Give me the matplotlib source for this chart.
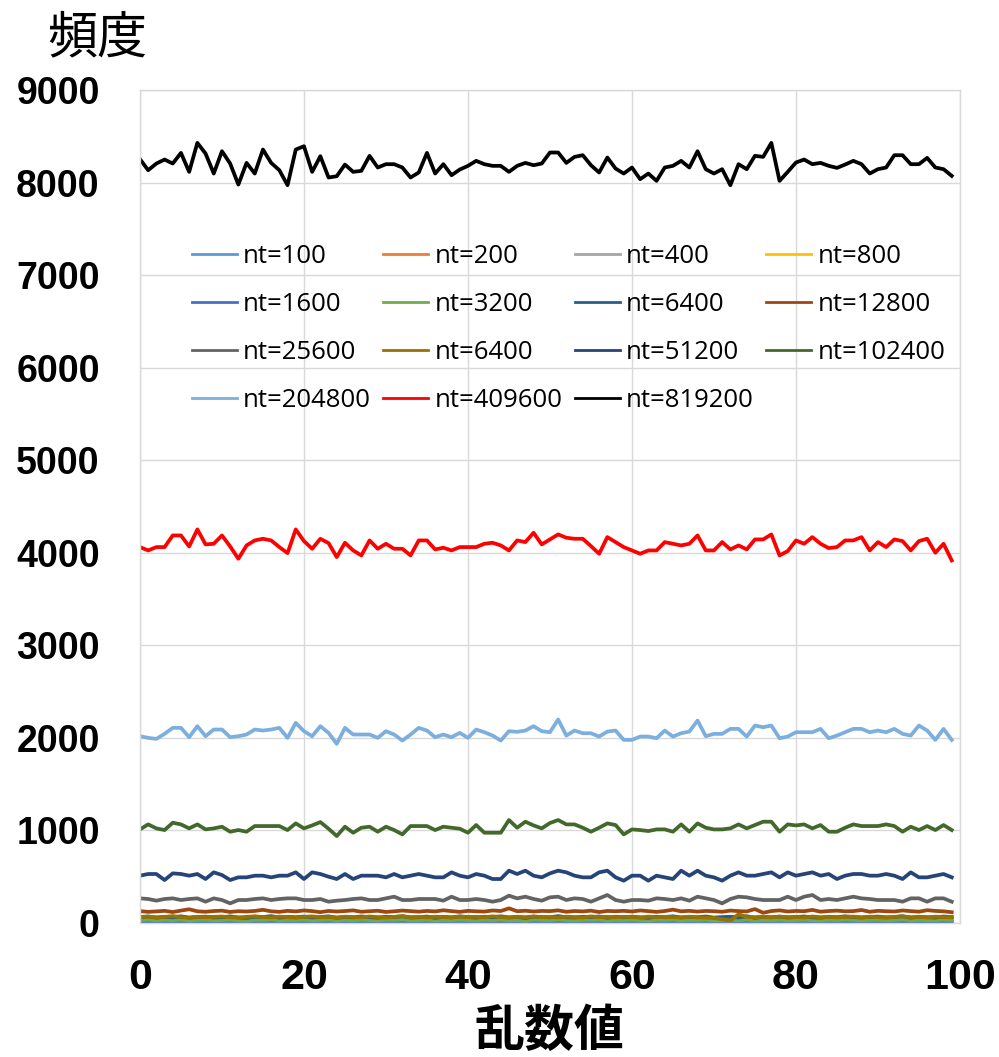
import matplotlib
matplotlib.use('Agg')
import matplotlib.pyplot as plt

# 乱数値 0..99 の出現頻度
x = list(range(100))

labels = ['nt=100', 'nt=200', 'nt=400', 'nt=800', 'nt=1600', 'nt=3200', 'nt=6400',
          'nt=12800', 'nt=25600', 'nt=6400', 'nt=51200', 'nt=102400', 'nt=204800',
          'nt=409600', 'nt=819200']
colors = ['#5B9BD5', '#ED7D31', '#A5A5A5', '#FFC000', '#4472C4', '#70AD47', '#255E91',
          '#9E480E', '#636363', '#997300', '#264478', '#43682B', '#7CAFDD',
          '#FF0000', '#000000']

nt100 = [1, 0, 2, 1, 1, 0, 3, 1, 0, 1, 2, 1, 0, 1, 1, 2, 0, 1, 1, 0,
         2, 1, 1, 0, 1, 3, 0, 1, 2, 1, 0, 1, 1, 2, 0, 1, 0, 2, 1, 1,
         1, 0, 1, 2, 1, 0, 1, 1, 3, 0, 1, 2, 0, 1, 1, 0, 2, 1, 0, 1,
         1, 1, 0, 2, 1, 1, 0, 1, 2, 0, 1, 0, 1, 1, 2, 0, 1, 3, 1, 0,
         1, 2, 1, 0, 1, 1, 0, 2, 1, 1, 0, 1, 2, 1, 0, 1, 1, 0, 2, 1]
nt200 = [2, 3, 1, 2, 0, 2, 4, 1, 2, 3, 1, 2, 2, 3, 1, 0, 2, 3, 2, 1,
         3, 2, 1, 2, 4, 2, 1, 3, 2, 2, 1, 3, 2, 0, 2, 3, 1, 2, 2, 4,
         2, 1, 3, 2, 2, 1, 2, 3, 1, 2, 3, 2, 2, 1, 4, 2, 1, 2, 3, 2,
         1, 2, 3, 2, 0, 2, 3, 1, 2, 2, 4, 2, 1, 3, 2, 2, 1, 2, 3, 1,
         2, 3, 2, 1, 2, 2, 4, 1, 2, 3, 2, 1, 2, 3, 2, 1, 2, 2, 3, 2]
nt400 = [4, 5, 3, 4, 6, 2, 4, 5, 3, 4, 6, 4, 3, 5, 4, 2, 5, 4, 3, 6,
         4, 3, 5, 4, 4, 7, 3, 4, 5, 2, 4, 6, 3, 4, 5, 4, 3, 2, 5, 4,
         4, 5, 3, 6, 4, 3, 4, 5, 2, 4, 5, 4, 3, 4, 6, 4, 3, 5, 4, 2,
         4, 5, 4, 3, 6, 4, 2, 5, 4, 3, 4, 6, 3, 4, 5, 4, 3, 4, 6, 2,
         5, 4, 3, 4, 5, 3, 4, 6, 4, 3, 4, 5, 2, 4, 6, 4, 3, 5, 4, 4]
nt800 = [8, 10, 7, 6, 9, 8, 11, 7, 8, 6, 9, 8, 10, 5, 8, 9, 7, 8, 11, 6,
         8, 9, 7, 10, 8, 6, 9, 8, 7, 10, 8, 6, 9, 11, 7, 8, 8, 10, 6, 9,
         7, 8, 10, 8, 5, 9, 8, 7, 11, 8, 9, 6, 8, 10, 7, 8, 9, 6, 8, 10,
         7, 9, 8, 6, 11, 8, 7, 9, 8, 10, 6, 8, 9, 7, 8, 12, 7, 8, 9, 6,
         8, 10, 7, 8, 9, 6, 8, 11, 7, 8, 9, 7, 8, 10, 6, 8, 9, 7, 8, 10]
nt1600 = [16, 19, 14, 17, 13, 18, 15, 20, 16, 12, 17, 15, 19, 14, 16, 18, 13, 17, 20, 15,
          16, 14, 18, 12, 17, 19, 15, 16, 13, 18, 17, 15, 14, 19, 16, 12, 18, 16, 15, 20,
          14, 17, 16, 13, 19, 15, 18, 14, 16, 17, 13, 18, 16, 15, 20, 14, 17, 12, 16, 19,
          15, 17, 14, 18, 16, 13, 19, 15, 17, 16, 14, 18, 12, 16, 19, 15, 17, 14, 18, 16,
          15, 13, 17, 19, 16, 14, 18, 15, 12, 17, 16, 19, 14, 17, 15, 18, 13, 16, 20, 15]
nt3200 = [32, 36, 28, 34, 30, 38, 27, 33, 35, 29, 31, 37, 30, 26, 34, 32, 39, 28, 33, 31,
          35, 29, 32, 37, 27, 33, 30, 36, 31, 28, 34, 32, 38, 29, 31, 35, 27, 33, 30, 36,
          32, 28, 34, 31, 37, 29, 33, 26, 35, 32, 30, 38, 31, 29, 34, 32, 36, 28, 33, 31,
          35, 30, 27, 34, 32, 37, 29, 33, 31, 36, 28, 32, 34, 30, 38, 27, 33, 31, 35, 29,
          32, 36, 30, 28, 34, 31, 37, 32, 29, 33, 35, 30, 32, 38, 28, 34, 31, 29, 36, 32]
nt6400 = [64, 70, 58, 66, 61, 72, 57, 65, 68, 60, 63, 71, 59, 55, 67, 64, 74, 58, 66, 62,
          69, 60, 64, 72, 56, 65, 61, 70, 63, 57, 67, 64, 73, 59, 62, 69, 56, 66, 61, 71,
          64, 58, 67, 62, 72, 60, 66, 54, 69, 64, 61, 74, 62, 59, 67, 64, 70, 57, 66, 62,
          68, 61, 56, 67, 64, 72, 59, 66, 62, 70, 58, 64, 67, 60, 73, 56, 66, 62, 69, 59,
          64, 70, 61, 57, 67, 62, 72, 64, 59, 66, 69, 61, 64, 73, 57, 67, 62, 59, 70, 64]
nt12800 = [128, 120, 125, 131, 118, 134, 148, 126, 121, 129, 133, 119, 127, 124, 130, 142, 126, 120, 131, 125,
           135, 128, 117, 130, 124, 129, 136, 121, 127, 132, 119, 126, 134, 128, 122, 130, 125, 137, 128, 120,
           131, 126, 123, 135, 129, 158, 127, 132, 124, 130, 128, 136, 121, 129, 125, 133, 118, 130, 127, 131,
           124, 135, 128, 120, 129, 144, 126, 131, 123, 130, 127, 121, 134, 128, 125, 150, 110, 129, 136, 124,
           130, 127, 141, 122, 129, 133, 126, 128, 140, 121, 131, 127, 124, 135, 128, 122, 138, 130, 126, 116]
nt25600 = [266, 259, 241, 259, 266, 248, 259, 266, 230, 266, 248, 212, 248, 248, 259, 266, 248, 259, 266, 266,
           248, 248, 259, 230, 241, 248, 259, 266, 248, 248, 266, 284, 248, 248, 259, 259, 259, 241, 284, 248,
           248, 259, 248, 230, 248, 295, 266, 284, 259, 241, 277, 284, 248, 266, 259, 230, 266, 302, 248, 230,
           248, 248, 241, 266, 259, 248, 266, 241, 284, 266, 248, 212, 259, 284, 277, 259, 248, 248, 248, 284,
           248, 284, 302, 248, 259, 248, 266, 284, 266, 259, 248, 248, 248, 230, 266, 266, 230, 266, 266, 230]
nt6400b = [64, 68, 60, 66, 74, 63, 58, 67, 62, 65, 70, 61, 59, 66, 72, 64, 60, 68, 63, 57,
           66, 71, 62, 65, 59, 68, 64, 61, 70, 63, 58, 66, 73, 62, 65, 60, 67, 64, 59, 69,
           63, 66, 61, 72, 64, 58, 67, 63, 70, 62, 65, 60, 68, 64, 59, 71, 63, 66, 61, 67,
           64, 58, 69, 62, 66, 63, 60, 68, 61, 57, 55, 40, 25, 94, 66, 62, 66, 60, 68, 63,
           65, 59, 70, 62, 66, 61, 64, 69, 60, 67, 63, 58, 66, 71, 62, 65, 60, 68, 63, 61]
nt51200 = [511, 529, 529, 464, 536, 529, 511, 529, 475, 547, 518, 464, 493, 493, 511, 511, 493, 511, 511, 547,
           475, 547, 529, 500, 475, 529, 475, 511, 511, 511, 493, 529, 493, 511, 529, 511, 493, 493, 547, 511,
           493, 529, 511, 475, 475, 565, 529, 565, 511, 493, 536, 565, 547, 511, 493, 493, 547, 565, 493, 457,
           511, 511, 457, 511, 493, 475, 565, 511, 565, 511, 493, 457, 511, 547, 511, 511, 529, 547, 493, 547,
           511, 529, 547, 511, 529, 475, 511, 529, 529, 511, 511, 529, 511, 475, 547, 493, 493, 511, 529, 493]
nt102400 = [1011, 1065, 1022, 1004, 1083, 1065, 1022, 1065, 1011, 1022, 1040, 986, 1004, 986, 1047, 1047, 1047, 1047, 1004, 1076,
            1022, 1054, 1090, 1018, 939, 1040, 975, 1029, 1040, 986, 1040, 1004, 957, 1047, 1047, 1047, 1004, 1040, 1029, 1018,
            975, 1058, 975, 975, 975, 1112, 1029, 1094, 1054, 1022, 1080, 1112, 1065, 1065, 1029, 986, 1029, 1076, 1058, 957,
            1011, 1004, 993, 1011, 1011, 986, 1065, 986, 1076, 1029, 1011, 1011, 1022, 1065, 1022, 1058, 1094, 1094, 986, 1065,
            1054, 1065, 1022, 1058, 986, 986, 1029, 1065, 1047, 1047, 1047, 1065, 1047, 986, 1040, 1004, 1047, 1004, 1058, 1004]
nt204800 = [2018, 2000, 1989, 2043, 2108, 2108, 2007, 2126, 2018, 2090, 2090, 2007, 2018, 2036, 2090, 2079, 2090, 2108, 2000, 2162,
            2072, 2018, 2126, 2054, 1935, 2108, 2036, 2036, 2036, 2000, 2072, 2036, 1971, 2036, 2108, 2079, 2007, 2036, 2007, 2054,
            2000, 2090, 2061, 2025, 1971, 2072, 2065, 2079, 2126, 2072, 2061, 2198, 2025, 2079, 2050, 2050, 2014, 2068, 2079, 1978,
            1978, 2014, 2014, 1996, 2079, 2014, 2050, 2068, 2187, 2018, 2043, 2043, 2097, 2097, 2014, 2133, 2115, 2133, 1996, 2014,
            2061, 2061, 2061, 2097, 1996, 2025, 2061, 2097, 2097, 2061, 2079, 2061, 2097, 2043, 2025, 2133, 2079, 1978, 2097, 1978]
nt409600 = [4061, 4025, 4061, 4061, 4187, 4187, 4068, 4252, 4090, 4097, 4187, 4068, 3935, 4079, 4133, 4151, 4133, 4061, 3996, 4252,
            4126, 4043, 4151, 4104, 3953, 4108, 4025, 3971, 4133, 4043, 4097, 4043, 4043, 3971, 4133, 4133, 4036, 4054, 4025, 4061,
            4061, 4061, 4097, 4108, 4079, 4025, 4133, 4115, 4216, 4090, 4144, 4198, 4162, 4151, 4151, 4072, 3989, 4169, 4115, 4061,
            4025, 3989, 4025, 4025, 4115, 4097, 4079, 4097, 4187, 4025, 4025, 4115, 4036, 4079, 4036, 4144, 4144, 4198, 3971, 4018,
            4133, 4097, 4169, 4097, 4050, 4061, 4133, 4133, 4169, 4025, 4115, 4061, 4144, 4126, 4025, 4126, 4151, 4000, 4097, 3917]
nt819200 = [8252, 8133, 8205, 8248, 8205, 8320, 8115, 8428, 8313, 8097, 8338, 8205, 7978, 8212, 8097, 8356, 8212, 8133, 7971, 8356,
            8392, 8115, 8284, 8054, 8068, 8194, 8115, 8126, 8288, 8162, 8198, 8198, 8162, 8054, 8108, 8320, 8097, 8198, 8079, 8140,
            8180, 8234, 8198, 8180, 8180, 8115, 8180, 8212, 8187, 8205, 8324, 8324, 8212, 8277, 8295, 8187, 8108, 8270, 8151, 8097,
            8162, 8036, 8097, 8018, 8162, 8180, 8234, 8162, 8338, 8144, 8097, 8144, 7971, 8198, 8144, 8288, 8277, 8428, 8018, 8115,
            8216, 8248, 8198, 8212, 8180, 8158, 8194, 8234, 8198, 8097, 8144, 8162, 8295, 8295, 8198, 8198, 8266, 8162, 8144, 8072]

series = [nt100, nt200, nt400, nt800, nt1600, nt3200, nt6400, nt12800, nt25600,
          nt6400b, nt51200, nt102400, nt204800, nt409600, nt819200]

fig = plt.figure(figsize=(9.99, 10.57), dpi=100)
ax = fig.add_axes([0.1401, 0.1268, 0.8208, 0.7881])

handles = []
for ys, lab, c in zip(series, labels, colors):
    h, = ax.plot(x, ys, color=c, lw=2.7, label=lab)
    handles.append(h)

ax.set_xlim(0, 100)
ax.set_ylim(0, 9000)
ax.set_xticks(range(0, 101, 20))
ax.set_yticks(range(0, 9001, 1000))
ax.grid(True, color='#D9D9D9', lw=1.0)
ax.set_axisbelow(True)
for s in ax.spines.values():
    s.set_color('#D9D9D9')
    s.set_linewidth(1.0)
ax.tick_params(length=0)
ax.tick_params(axis='y', pad=29)
ax.tick_params(axis='x', pad=25)
for t in ax.get_yticklabels():
    t.set_fontfamily(['Liberation Sans', 'DejaVu Sans'])
    t.set_fontweight('bold')
    t.set_fontsize(27)
for t in ax.get_xticklabels():
    t.set_fontfamily(['Liberation Sans', 'DejaVu Sans'])
    t.set_fontweight('bold')
    t.set_fontsize(31)

# 凡例は行方向に並べる (列優先で詰められるので並べ替え)
order = [0, 4, 8, 12, 1, 5, 9, 13, 2, 6, 10, 14, 3, 7, 11]
leg = ax.legend([handles[i] for i in order], [labels[i] for i in order],
                ncol=4, loc='upper left', bbox_to_anchor=(0.192, 0.769),
                bbox_transform=fig.transFigure, frameon=False,
                prop={'family': ['Open Sans', 'DejaVu Sans'], 'size': 18.5},
                handlelength=1.75, handletextpad=0.25, columnspacing=0.47,
                labelspacing=0.89, borderpad=0, borderaxespad=0)
for ln in leg.get_lines():
    ln.set_linewidth(2.0)

fig.text(0.097, 0.964, '頻度', ha='center', va='center', fontsize=36,
         family=['Noto Sans CJK JP', 'DejaVu Sans'])
fig.text(0.55, 0.024, '乱数値', ha='center', va='center', fontsize=36,
         fontweight='bold', family=['Noto Sans CJK JP', 'DejaVu Sans'])

fig.savefig('out.png', dpi=100)
